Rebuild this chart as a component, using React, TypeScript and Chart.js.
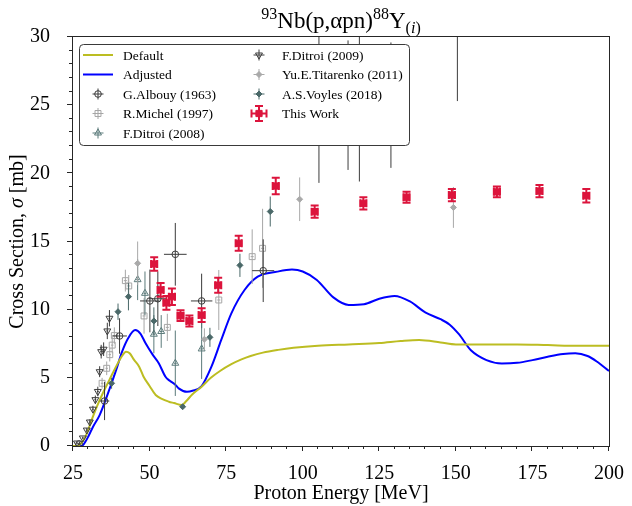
import React, { useEffect, useRef } from "react";
import { Chart, registerables } from "chart.js";
import { drawPoint } from "chart.js/helpers";

Chart.register(...registerables);

const SERIF = '"Liberation Serif", "DejaVu Serif", serif';

// Axis ranges and tick steps
const X_MIN = 25;
const X_MAX = 200;
const X_MAJOR = 25;
const X_MINOR = 5;
const Y_MIN = 0;
const Y_MAX = 30;
const Y_MAJOR = 5;
const Y_MINOR = 1;

// Model calculations (energy in MeV, cross section in mb)
const defaultE = [25, 26.5, 28, 29, 30, 31.5, 33, 35, 37, 39, 41, 42.3, 43.5, 45, 46.6, 48, 50, 52, 54, 56.3, 58, 60.5, 62, 64, 67, 70, 73, 76.7, 80, 83, 87, 92, 97, 105, 115, 125, 132, 138, 145, 150, 160, 170, 180, 190, 200];
const defaultXS = [0, 0, 0.3, 0.65, 1.2, 2.15, 3.0, 4.0, 4.9, 5.8, 6.6, 6.92, 6.8, 6.3, 5.82, 5.1, 4.4, 3.74, 3.45, 3.25, 3.15, 3.0, 3.3, 3.8, 4.35, 5.0, 5.5, 6.0, 6.35, 6.6, 6.85, 7.05, 7.2, 7.35, 7.45, 7.55, 7.7, 7.78, 7.6, 7.45, 7.45, 7.45, 7.4, 7.35, 7.35];

const adjustedE = [25, 27.8, 29, 30, 31.5, 33.7, 36, 39.1, 41, 43, 45.3, 47, 48.7, 51, 53, 55.2, 56.5, 58.4, 59.5, 62.2, 64, 67, 70.2, 73.4, 76.7, 81, 85.3, 91.7, 96.5, 100, 104.6, 110, 115, 120, 125, 130, 135, 140, 145, 148, 151, 155, 160, 165, 170, 175, 180, 185, 189, 193, 196, 200];
const adjustedXS = [0, 0, 0.3, 0.7, 1.4, 2.27, 3.6, 5.58, 6.9, 7.9, 8.5, 8.25, 7.53, 6.7, 6.07, 5.08, 4.8, 4.5, 4.23, 3.98, 4.05, 4.4, 5.82, 7.78, 9.73, 11.44, 12.42, 12.79, 12.94, 12.8, 12.18, 10.9, 10.35, 10.4, 10.8, 11.0, 10.6, 9.8, 9.3, 8.9, 8.2, 7.0, 6.3, 6.05, 6.1, 6.3, 6.55, 6.75, 6.8, 6.6, 6.2, 5.5];

// Measured data: energy, cross section, energy uncertainty, cross-section uncertainty
const albouyE = [27.0, 35.3, 40.2, 50.1, 52.7, 58.4, 67.0, 87.1];
const albouyXS = [0.15, 3.3, 8.07, 10.64, 10.8, 14.06, 10.64, 12.86];
const albouyDE = [0.6, 1.55, 2.4, 3.2, 3.0, 3.7, 3.5, 3.6];
const albouyDXS = [0.1, 1.4, 1.3, 2.3, 2.0, 2.3, 2.0, 2.3];

const michelE = [34.5, 36.0, 37.0, 37.8, 38.5, 42.1, 43.2, 48.2, 55.8, 72.6, 83.5, 86.9];
const michelXS = [4.6, 5.7, 6.7, 7.4, 8.1, 12.13, 11.74, 9.54, 8.7, 10.71, 13.89, 14.5];
const michelDE = [0.4, 0.4, 0.4, 0.4, 0.4, 0.5, 0.5, 0.5, 0.5, 0.5, 0.5, 0.5];
const michelDXS = [0.4, 0.5, 0.5, 0.6, 0.6, 0.8, 0.8, 1.3, 1.0, 2.2, 2.0, 2.9];

const ditroi08E = [46.1, 48.5, 51.4, 53.8, 58.4, 67.0];
const ditroi08XS = [12.2, 11.2, 8.2, 8.4, 6.07, 7.12];
const ditroi08DE = [0.5, 0.5, 0.5, 0.5, 0.5, 0.5];
const ditroi08DXS = [1.5, 1.6, 1.4, 1.2, 2.4, 2.2];

const ditroi09E = [26.3, 28.2, 29.5, 30.5, 31.5, 32.3, 33.1, 33.7, 34.2, 35.0, 36.2, 36.9, 105.3, 114.8, 118.5, 128.8, 150.5];
const ditroi09XS = [0.22, 0.59, 1.17, 1.76, 2.7, 3.4, 4.0, 5.45, 6.92, 7.1, 8.44, 9.37, 26, 25, 26, 25, 30.5];
const ditroi09DE = [0.3, 0.3, 0.3, 0.3, 0.3, 0.3, 0.3, 0.3, 0.3, 0.3, 0.3, 0.3, 0.5, 0.5, 0.5, 0.5, 0.5];
const ditroi09DXS = [0.05, 0.1, 0.15, 0.2, 0.25, 0.3, 0.35, 0.4, 0.5, 0.5, 0.6, 0.6, 6.7, 4.75, 6.6, 4.6, 5.2];

const titarenkoE = [46.1, 67.9, 99.0, 149.2];
const titarenkoXS = [13.4, 7.83, 18.1, 17.5];
const titarenkoDE = [0.5, 0.5, 0.5, 0.5];
const titarenkoDXS = [1.6, 0.8, 1.6, 1.5];

const voylesE = [37.6, 39.7, 43.1, 51.4, 60.8, 69.7, 79.5, 89.4];
const voylesXS = [4.6, 9.85, 10.95, 9.17, 2.88, 7.97, 13.25, 17.2];
const voylesDE = [0.4, 0.4, 0.4, 0.4, 0.4, 0.4, 0.4, 0.4];
const voylesDXS = [0.4, 0.6, 1.0, 1.0, 0.15, 0.7, 0.85, 1.1];

const thisWorkE = [51.5, 53.6, 55.5, 57.3, 60.1, 63.0, 67.0, 72.4, 79.1, 91.2, 103.9, 119.8, 133.9, 148.7, 163.4, 177.3, 192.6];
const thisWorkXS = [13.35, 11.45, 10.5, 10.95, 9.56, 9.17, 9.6, 11.8, 14.87, 19.07, 17.19, 17.8, 18.25, 18.41, 18.64, 18.7, 18.36];
const thisWorkDE = [1.0, 1.0, 1.0, 1.0, 1.0, 1.0, 1.0, 1.0, 1.0, 1.0, 1.0, 1.0, 1.0, 1.0, 1.0, 1.0, 1.0];
const thisWorkDXS = [0.5, 0.5, 0.5, 0.6, 0.4, 0.4, 0.5, 0.55, 0.55, 0.6, 0.45, 0.45, 0.4, 0.45, 0.4, 0.45, 0.5];

type Series = {
  label: string;
  E: number[];
  XS: number[];
  dE: number[];
  dXS: number[];
  color: string;
  style: string;
  radius: number;
  rotation?: number;
  fill: boolean;
  barWidth: number;
  cap: number;
  order: number;
};

const measured: Series[] = [
  { label: "G.Albouy (1963)", E: albouyE, XS: albouyXS, dE: albouyDE, dXS: albouyDXS, color: "#3a3a3a", style: "circle", radius: 3.3, fill: false, barWidth: 1, cap: 0, order: 8 },
  { label: "R.Michel (1997)", E: michelE, XS: michelXS, dE: michelDE, dXS: michelDXS, color: "#a6a6a6", style: "rect", radius: 4.2, fill: false, barWidth: 1, cap: 0, order: 9 },
  { label: "F.Ditroi (2008)", E: ditroi08E, XS: ditroi08XS, dE: ditroi08DE, dXS: ditroi08DXS, color: "#5b7a7a", style: "triangle", radius: 4, fill: false, barWidth: 1, cap: 0, order: 7 },
  { label: "F.Ditroi (2009)", E: ditroi09E, XS: ditroi09XS, dE: ditroi09DE, dXS: ditroi09DXS, color: "#3c3c3c", style: "triangle", radius: 4, rotation: 180, fill: false, barWidth: 1, cap: 0, order: 6 },
  { label: "Yu.E.Titarenko (2011)", E: titarenkoE, XS: titarenkoXS, dE: titarenkoDE, dXS: titarenkoDXS, color: "#a9a9a9", style: "rectRot", radius: 3, fill: true, barWidth: 1, cap: 0, order: 5 },
  { label: "A.S.Voyles (2018)", E: voylesE, XS: voylesXS, dE: voylesDE, dXS: voylesDXS, color: "#4a6868", style: "rectRot", radius: 3, fill: true, barWidth: 1, cap: 0, order: 4 },
  { label: "This Work", E: thisWorkE, XS: thisWorkXS, dE: thisWorkDE, dXS: thisWorkDXS, color: "#dc143c", style: "rect", radius: 4.4, fill: true, barWidth: 2, cap: 4, order: 1 },
];

const curves = [
  { label: "Default", E: defaultE, XS: defaultXS, color: "#bcbd22" },
  { label: "Adjusted", E: adjustedE, XS: adjustedXS, color: "#0000ff" },
];

// Draws x/y error bars beneath each measured series' markers
const errorBarPlugin = {
  id: "errorBars",
  beforeDatasetDraw(chart: any, args: any) {
    const ds = chart.data.datasets[args.index];
    const s: Series | undefined = ds.series;
    if (!s) return;
    const { ctx, chartArea: a } = chart;
    const xs = chart.scales.x;
    const ys = chart.scales.y;
    ctx.save();
    ctx.beginPath();
    ctx.rect(a.left, a.top, a.right - a.left, a.bottom - a.top);
    ctx.clip();
    ctx.strokeStyle = s.color;
    ctx.lineWidth = s.barWidth;
    s.E.forEach((e, i) => {
      const v = s.XS[i];
      const px = xs.getPixelForValue(e);
      const py = ys.getPixelForValue(v);
      const x0 = xs.getPixelForValue(e - s.dE[i]);
      const x1 = xs.getPixelForValue(e + s.dE[i]);
      const y0 = ys.getPixelForValue(v - s.dXS[i]);
      const y1 = ys.getPixelForValue(v + s.dXS[i]);
      ctx.beginPath();
      ctx.moveTo(x0, py);
      ctx.lineTo(x1, py);
      ctx.moveTo(px, y0);
      ctx.lineTo(px, y1);
      if (s.cap) {
        ctx.moveTo(px - s.cap, y0);
        ctx.lineTo(px + s.cap, y0);
        ctx.moveTo(px - s.cap, y1);
        ctx.lineTo(px + s.cap, y1);
        ctx.moveTo(x0, py - s.cap);
        ctx.lineTo(x0, py + s.cap);
        ctx.moveTo(x1, py - s.cap);
        ctx.lineTo(x1, py + s.cap);
      }
      ctx.stroke();
    });
    ctx.restore();
  },
};

// Frame, outward major/minor ticks, axis titles, title and legend
const decorPlugin = {
  id: "decor",
  afterDatasetsDraw(chart: any) {
    const { ctx, chartArea: a } = chart;
    const xs = chart.scales.x;
    const ys = chart.scales.y;
    ctx.save();
    ctx.strokeStyle = "#262626";
    ctx.lineWidth = 1;
    ctx.strokeRect(a.left - 0.5, a.top - 0.5, a.right - a.left + 1, a.bottom - a.top + 1);
    ctx.beginPath();
    for (let v = X_MIN; v <= X_MAX + 1e-9; v += X_MINOR) {
      const px = Math.round(xs.getPixelForValue(v)) - 0.5;
      const len = Math.abs(v % X_MAJOR) < 1e-9 ? 5 : 3;
      ctx.moveTo(px, a.bottom);
      ctx.lineTo(px, a.bottom + len);
    }
    for (let v = Y_MIN; v <= Y_MAX + 1e-9; v += Y_MINOR) {
      const py = Math.round(ys.getPixelForValue(v)) - 0.5;
      const len = Math.abs(v % Y_MAJOR) < 1e-9 ? 5 : 3;
      ctx.moveTo(a.left - 1, py);
      ctx.lineTo(a.left - 1 - len, py);
    }
    ctx.stroke();
    ctx.restore();
  },
  afterDraw(chart: any) {
    const { ctx, chartArea: a } = chart;
    const cx = (a.left + a.right) / 2;
    const cy = (a.top + a.bottom) / 2;
    ctx.save();
    ctx.fillStyle = "#000";
    ctx.textBaseline = "alphabetic";

    // x-axis title
    ctx.font = `20px ${SERIF}`;
    ctx.textAlign = "center";
    ctx.fillText("Proton Energy [MeV]", cx, 499);

    // y-axis title with italic sigma
    const yParts = [
      { t: "Cross Section, ", f: `20px ${SERIF}` },
      { t: "σ", f: `italic 20px ${SERIF}` },
      { t: " [mb]", f: `20px ${SERIF}` },
    ];
    ctx.save();
    ctx.translate(23, cy);
    ctx.rotate(-Math.PI / 2);
    ctx.textAlign = "left";
    let tw = 0;
    yParts.forEach((p) => { ctx.font = p.f; tw += ctx.measureText(p.t).width; });
    let tx = -tw / 2;
    yParts.forEach((p) => { ctx.font = p.f; ctx.fillText(p.t, tx, 0); tx += ctx.measureText(p.t).width; });
    ctx.restore();

    // title with nuclide super/subscripts
    const big = `23px ${SERIF}`;
    const small = `16px ${SERIF}`;
    const smallIt = `italic 16px ${SERIF}`;
    const tParts = [
      { t: "93", f: small, dy: -9 },
      { t: "Nb(p,αpn)", f: big, dy: 0 },
      { t: "88", f: small, dy: -9 },
      { t: "Y", f: big, dy: 0 },
      { t: "(", f: small, dy: 5 },
      { t: "i", f: smallIt, dy: 5 },
      { t: ")", f: small, dy: 5 },
    ];
    ctx.textAlign = "left";
    let w = 0;
    tParts.forEach((p) => { ctx.font = p.f; w += ctx.measureText(p.t).width; });
    let x = cx - w / 2;
    tParts.forEach((p) => { ctx.font = p.f; ctx.fillText(p.t, x, 28 + p.dy); x += ctx.measureText(p.t).width; });

    // legend
    const L = { x: 79.5, y: 44.5, w: 330, h: 101, r: 4 };
    ctx.beginPath();
    ctx.roundRect(L.x, L.y, L.w, L.h, L.r);
    ctx.fillStyle = "#ffffff";
    ctx.fill();
    ctx.strokeStyle = "#3a3a3a";
    ctx.lineWidth = 1;
    ctx.stroke();

    const rows = [55, 74.5, 94, 113.5, 133];
    const col1 = { hx: 98, tx: 123 };
    const col2 = { hx: 259, tx: 282 };
    ctx.font = `13.5px ${SERIF}`;
    ctx.textBaseline = "middle";
    const entries: { label: string; col: any; row: number; curve?: string; s?: Series }[] = [
      { label: curves[0].label, col: col1, row: 0, curve: curves[0].color },
      { label: curves[1].label, col: col1, row: 1, curve: curves[1].color },
      { label: measured[0].label, col: col1, row: 2, s: measured[0] },
      { label: measured[1].label, col: col1, row: 3, s: measured[1] },
      { label: measured[2].label, col: col1, row: 4, s: measured[2] },
      { label: measured[3].label, col: col2, row: 0, s: measured[3] },
      { label: measured[4].label, col: col2, row: 1, s: measured[4] },
      { label: measured[5].label, col: col2, row: 2, s: measured[5] },
      { label: measured[6].label, col: col2, row: 3, s: measured[6] },
    ];
    entries.forEach((en) => {
      const y = rows[en.row];
      const hx = en.col.hx;
      if (en.curve) {
        ctx.strokeStyle = en.curve;
        ctx.lineWidth = 2;
        ctx.beginPath();
        ctx.moveTo(hx - 15, y);
        ctx.lineTo(hx + 15, y);
        ctx.stroke();
      } else if (en.s) {
        const s = en.s;
        const arm = s.cap ? 7.5 : 5.5;
        ctx.strokeStyle = s.color;
        ctx.lineWidth = s.barWidth;
        ctx.beginPath();
        ctx.moveTo(hx - arm, y);
        ctx.lineTo(hx + arm, y);
        ctx.moveTo(hx, y - arm);
        ctx.lineTo(hx, y + arm);
        if (s.cap) {
          ctx.moveTo(hx - s.cap, y - arm);
          ctx.lineTo(hx + s.cap, y - arm);
          ctx.moveTo(hx - s.cap, y + arm);
          ctx.lineTo(hx + s.cap, y + arm);
          ctx.moveTo(hx - arm, y - s.cap);
          ctx.lineTo(hx - arm, y + s.cap);
          ctx.moveTo(hx + arm, y - s.cap);
          ctx.lineTo(hx + arm, y + s.cap);
        }
        ctx.stroke();
        ctx.fillStyle = s.fill ? s.color : "rgba(0,0,0,0)";
        ctx.strokeStyle = s.color;
        ctx.lineWidth = 1;
        drawPoint(ctx, { pointStyle: s.style as any, radius: s.radius, rotation: s.rotation || 0, borderWidth: 1 } as any, hx, y);
      }
      ctx.fillStyle = "#000";
      ctx.textAlign = "left";
      ctx.fillText(en.label, en.col.tx, y + 1);
    });
    ctx.restore();
  },
};

export default function App() {
  const canvasRef = useRef<HTMLCanvasElement>(null);

  useEffect(() => {
    const canvas = canvasRef.current;
    if (!canvas) return;

    const curveSets = curves.map((c) => ({
      type: "scatter" as const,
      label: c.label,
      data: c.E.map((e, i) => ({ x: e, y: c.XS[i] })),
      showLine: true,
      borderColor: c.color,
      backgroundColor: c.color,
      borderWidth: 2,
      pointRadius: 0,
      cubicInterpolationMode: "monotone" as const,
      order: 20,
    }));

    const pointSets = measured.map((s) => ({
      type: "scatter" as const,
      label: s.label,
      data: s.E.map((e, i) => ({ x: e, y: s.XS[i] })),
      series: s,
      showLine: false,
      pointStyle: s.style as any,
      pointRadius: s.radius,
      pointRotation: s.rotation || 0,
      pointBorderColor: s.color,
      pointBackgroundColor: s.fill ? s.color : "rgba(0,0,0,0)",
      pointBorderWidth: 1,
      order: s.order,
    }));

    const chart = new Chart(canvas, {
      type: "scatter",
      data: { datasets: [...curveSets, ...pointSets] as any },
      options: {
        animation: false,
        responsive: false,
        devicePixelRatio: 1,
        events: [],
        layout: { padding: { top: 37, right: 16, left: 0, bottom: 0 }, autoPadding: false } as any,
        plugins: { legend: { display: false }, tooltip: { enabled: false }, title: { display: false } },
        scales: {
          x: {
            type: "linear",
            min: X_MIN,
            max: X_MAX,
            grid: { display: false },
            border: { display: false },
            ticks: {
              stepSize: X_MAJOR,
              color: "#000",
              padding: 8,
              maxRotation: 0,
              autoSkip: false,
              font: { family: SERIF, size: 20 },
            },
            afterFit: (sc: any) => { sc.height = 60; },
          },
          y: {
            type: "linear",
            min: Y_MIN,
            max: Y_MAX,
            grid: { display: false },
            border: { display: false },
            ticks: {
              stepSize: Y_MAJOR,
              color: "#000",
              padding: 15,
              font: { family: SERIF, size: 20 },
            },
            afterFit: (sc: any) => { sc.width = 73; },
          },
        },
      },
      plugins: [errorBarPlugin, decorPlugin],
    });

    return () => chart.destroy();
  }, []);

  return (
    <div style={{ position: "fixed", left: 0, top: 0, width: 632, height: 506, background: "#ffffff" }}>
      <canvas ref={canvasRef} width={632} height={506} style={{ display: "block" }} />
    </div>
  );
}
